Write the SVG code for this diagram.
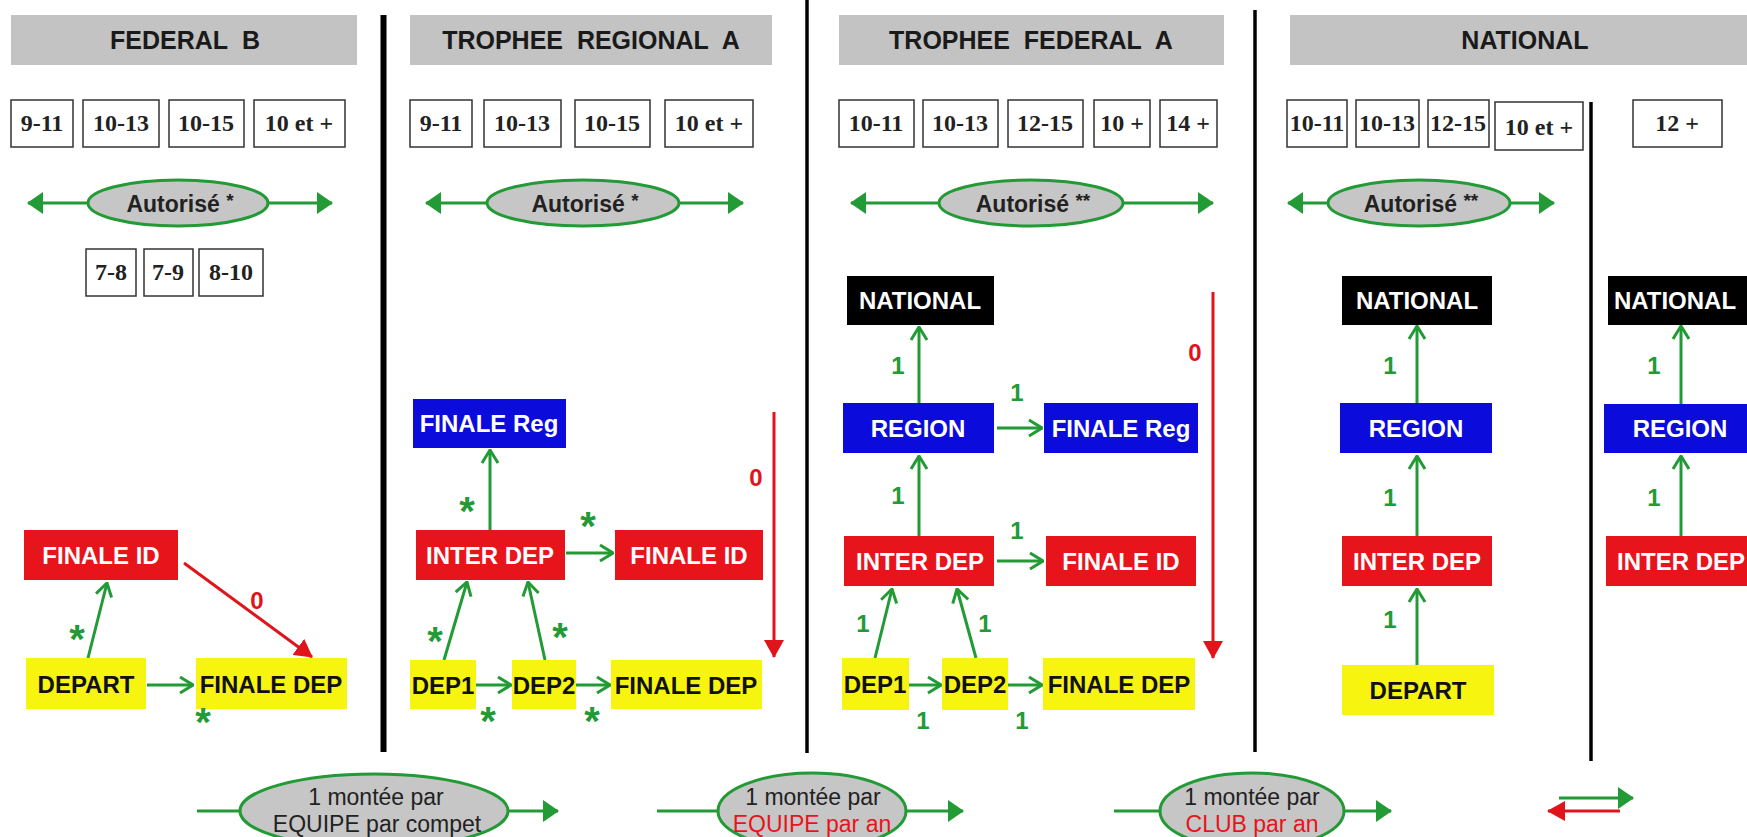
<svg xmlns="http://www.w3.org/2000/svg" width="1747" height="837" viewBox="0 0 1747 837">
<style>
.hdr{fill:#c3c3c3}
.hdrt{font-family:"Liberation Sans",Arial,sans-serif;font-weight:bold;font-size:25px;fill:#1a1a1a;text-anchor:middle}
.age{fill:#fff;stroke:#333;stroke-width:1.5}
.aget{font-family:"Liberation Serif","Times New Roman",serif;font-weight:bold;font-size:24px;fill:#222;text-anchor:middle}
.ell{fill:#c6c6c6;stroke:#229a35;stroke-width:3}
.ellt{font-family:"Liberation Sans",Arial,sans-serif;font-weight:bold;font-size:23px;fill:#222;text-anchor:middle}
.legt{font-family:"Liberation Sans",Arial,sans-serif;font-size:23px;fill:#222;text-anchor:middle}
.legr{fill:#e8141b}
.nt{font-family:"Liberation Sans",Arial,sans-serif;font-weight:bold;font-size:24px;text-anchor:middle}
.w{fill:#fff}
.k{fill:#111}
.red{fill:#e8141b}
.blue{fill:#0b0bdc}
.yel{fill:#f7f510}
.blk{fill:#000}
.g{stroke:#229a35;stroke-width:3;fill:none}
.r{stroke:#e0141b;stroke-width:3;fill:none}
.sep{stroke:#000}
.star{font-family:"Liberation Sans",Arial,sans-serif;font-weight:bold;font-size:40px;fill:#229a35;text-anchor:middle}
.one{font-family:"Liberation Sans",Arial,sans-serif;font-weight:bold;font-size:24px;fill:#229a35;text-anchor:middle}
.zero{font-family:"Liberation Sans",Arial,sans-serif;font-weight:bold;font-size:24px;fill:#e0141b;text-anchor:middle}
</style>
<defs>
<marker id="chev" viewBox="0 0 16 20" refX="15" refY="10" markerWidth="16" markerHeight="20" markerUnits="userSpaceOnUse" orient="auto"><path d="M2,2 L15,10 L2,18" fill="none" stroke="#229a35" stroke-width="3"/></marker>
<marker id="triG" viewBox="0 0 16 22" refX="15" refY="11" markerWidth="16" markerHeight="22" markerUnits="userSpaceOnUse" orient="auto"><path d="M0,0 L16,11 L0,22 Z" fill="#229a35"/></marker>
<marker id="triR" viewBox="0 0 18 20" refX="17" refY="10" markerWidth="18" markerHeight="20" markerUnits="userSpaceOnUse" orient="auto"><path d="M0,0 L18,10 L0,20 Z" fill="#e0141b"/></marker>
</defs>
<rect width="1747" height="837" fill="#fff"/>

<g id="separators">
<line class="sep" x1="383.5" y1="15" x2="383.5" y2="752" stroke-width="6"/>
<line class="sep" x1="807" y1="0" x2="807" y2="753" stroke-width="3.5"/>
<line class="sep" x1="1255" y1="10" x2="1255" y2="752" stroke-width="3.5"/>
<line class="sep" x1="1591" y1="102" x2="1591" y2="761" stroke-width="3.5"/>
</g>

<g id="headers">
<g id="h-federal-b"><rect class="hdr" x="11" y="15" width="346" height="50"/><text class="hdrt" x="185" y="49">FEDERAL&#160; B</text></g>
<g id="h-trophee-regional-a"><rect class="hdr" x="410" y="15" width="362" height="50"/><text class="hdrt" x="591" y="49">TROPHEE&#160; REGIONAL&#160; A</text></g>
<g id="h-trophee-federal-a"><rect class="hdr" x="839" y="15" width="385" height="50"/><text class="hdrt" x="1031" y="49">TROPHEE&#160; FEDERAL&#160; A</text></g>
<g id="h-national"><rect class="hdr" x="1290" y="15" width="457" height="50"/><text class="hdrt" x="1525" y="49">NATIONAL</text></g>
</g>

<g id="ages">
<g id="age-c1">
<rect class="age" x="11" y="100" width="62" height="47"/><text class="aget" x="42" y="131">9-11</text>
<rect class="age" x="83" y="100" width="76" height="47"/><text class="aget" x="121" y="131">10-13</text>
<rect class="age" x="169" y="100" width="75" height="47"/><text class="aget" x="206" y="131">10-15</text>
<rect class="age" x="254" y="100" width="91" height="47"/><text class="aget" x="299" y="131">10 et +</text>
<rect class="age" x="86" y="249" width="50" height="47"/><text class="aget" x="111" y="280">7-8</text>
<rect class="age" x="144" y="249" width="49" height="47"/><text class="aget" x="168" y="280">7-9</text>
<rect class="age" x="199" y="249" width="64" height="47"/><text class="aget" x="231" y="280">8-10</text>
</g>
<g id="age-c2">
<rect class="age" x="410" y="100" width="62" height="47"/><text class="aget" x="441" y="131">9-11</text>
<rect class="age" x="484" y="100" width="77" height="47"/><text class="aget" x="522" y="131">10-13</text>
<rect class="age" x="575" y="100" width="75" height="47"/><text class="aget" x="612" y="131">10-15</text>
<rect class="age" x="665" y="100" width="88" height="47"/><text class="aget" x="709" y="131">10 et +</text>
</g>
<g id="age-c3">
<rect class="age" x="839" y="100" width="75" height="47"/><text class="aget" x="876" y="131">10-11</text>
<rect class="age" x="923" y="100" width="75" height="47"/><text class="aget" x="960" y="131">10-13</text>
<rect class="age" x="1008" y="100" width="75" height="47"/><text class="aget" x="1045" y="131">12-15</text>
<rect class="age" x="1094" y="100" width="56" height="47"/><text class="aget" x="1122" y="131">10 +</text>
<rect class="age" x="1160" y="100" width="57" height="47"/><text class="aget" x="1188" y="131">14 +</text>
</g>
<g id="age-c4">
<rect class="age" x="1287" y="100" width="60" height="47"/><text class="aget" x="1317" y="131">10-11</text>
<rect class="age" x="1356" y="100" width="63" height="47"/><text class="aget" x="1387" y="131">10-13</text>
<rect class="age" x="1428" y="100" width="61" height="47"/><text class="aget" x="1458" y="131">12-15</text>
<rect class="age" x="1495" y="102" width="88" height="48"/><text class="aget" x="1539" y="135">10 et +</text>
<rect class="age" x="1633" y="100" width="89" height="47"/><text class="aget" x="1677" y="131">12 +</text>
</g>
</g>

<g id="autorise">
<g id="aut-c1"><line class="g" x1="88" y1="203" x2="28" y2="203" marker-end="url(#triG)"/><line class="g" x1="268" y1="203" x2="332" y2="203" marker-end="url(#triG)"/><ellipse class="ell" cx="178" cy="203" rx="90" ry="23"/><text class="ellt" x="180" y="212">Autorisé <tspan font-size="19" dy="-5">*</tspan></text></g>
<g id="aut-c2"><line class="g" x1="487" y1="203" x2="426" y2="203" marker-end="url(#triG)"/><line class="g" x1="679" y1="203" x2="743" y2="203" marker-end="url(#triG)"/><ellipse class="ell" cx="583" cy="203" rx="96" ry="23"/><text class="ellt" x="585" y="212">Autorisé <tspan font-size="19" dy="-5">*</tspan></text></g>
<g id="aut-c3"><line class="g" x1="939" y1="203" x2="851" y2="203" marker-end="url(#triG)"/><line class="g" x1="1123" y1="203" x2="1213" y2="203" marker-end="url(#triG)"/><ellipse class="ell" cx="1031" cy="203" rx="92" ry="23"/><text class="ellt" x="1033" y="212">Autorisé <tspan font-size="19" dy="-5">**</tspan></text></g>
<g id="aut-c4"><line class="g" x1="1328" y1="203" x2="1288" y2="203" marker-end="url(#triG)"/><line class="g" x1="1510" y1="203" x2="1554" y2="203" marker-end="url(#triG)"/><ellipse class="ell" cx="1419" cy="203" rx="91" ry="23"/><text class="ellt" x="1421" y="212">Autorisé <tspan font-size="19" dy="-5">**</tspan></text></g>
</g>

<g id="connectors">
<line class="g" x1="147" y1="685" x2="193" y2="685" marker-end="url(#chev)"/>
<line class="g" x1="88" y1="658" x2="107" y2="583" marker-end="url(#chev)"/>
<line class="r" x1="184" y1="563" x2="312" y2="657" marker-end="url(#triR)"/>

<line class="g" x1="490" y1="530" x2="490" y2="450" marker-end="url(#chev)"/>
<line class="g" x1="566" y1="553" x2="613" y2="553" marker-end="url(#chev)"/>
<line class="g" x1="444" y1="660" x2="467" y2="582" marker-end="url(#chev)"/>
<line class="g" x1="545" y1="660" x2="528" y2="582" marker-end="url(#chev)"/>
<line class="g" x1="476" y1="685" x2="511" y2="685" marker-end="url(#chev)"/>
<line class="g" x1="576" y1="685" x2="610" y2="685" marker-end="url(#chev)"/>
<line class="r" x1="774" y1="412" x2="774" y2="657" marker-end="url(#triR)"/>

<line class="g" x1="919" y1="403" x2="919" y2="327" marker-end="url(#chev)"/>
<line class="g" x1="919" y1="536" x2="919" y2="456" marker-end="url(#chev)"/>
<line class="g" x1="997" y1="428" x2="1042" y2="428" marker-end="url(#chev)"/>
<line class="g" x1="997" y1="561" x2="1043" y2="561" marker-end="url(#chev)"/>
<line class="g" x1="875" y1="658" x2="892" y2="589" marker-end="url(#chev)"/>
<line class="g" x1="976" y1="658" x2="957" y2="589" marker-end="url(#chev)"/>
<line class="g" x1="909" y1="685" x2="941" y2="685" marker-end="url(#chev)"/>
<line class="g" x1="1008" y1="685" x2="1042" y2="685" marker-end="url(#chev)"/>
<line class="r" x1="1213" y1="292" x2="1213" y2="658" marker-end="url(#triR)"/>

<line class="g" x1="1417" y1="403" x2="1417" y2="326" marker-end="url(#chev)"/>
<line class="g" x1="1417" y1="536" x2="1417" y2="456" marker-end="url(#chev)"/>
<line class="g" x1="1417" y1="665" x2="1417" y2="589" marker-end="url(#chev)"/>

<line class="g" x1="1681" y1="404" x2="1681" y2="326" marker-end="url(#chev)"/>
<line class="g" x1="1681" y1="536" x2="1681" y2="456" marker-end="url(#chev)"/>
</g>

<g id="col1-nodes">
<g id="c1-finale-id"><rect class="red" x="24" y="530" width="154" height="50"/><text class="nt w" x="101" y="564">FINALE ID</text></g>
<g id="c1-depart"><rect class="yel" x="26" y="658" width="120" height="51"/><text class="nt k" x="86" y="693">DEPART</text></g>
<g id="c1-finale-dep"><rect class="yel" x="196" y="658" width="151" height="51"/><text class="nt k" x="271" y="693">FINALE DEP</text></g>
</g>

<g id="col2-nodes">
<g id="c2-finale-reg"><rect class="blue" x="413" y="399" width="153" height="49"/><text class="nt w" x="489" y="432">FINALE Reg</text></g>
<g id="c2-inter-dep"><rect class="red" x="416" y="530" width="149" height="50"/><text class="nt w" x="490" y="564">INTER DEP</text></g>
<g id="c2-finale-id"><rect class="red" x="615" y="530" width="148" height="50"/><text class="nt w" x="689" y="564">FINALE ID</text></g>
<g id="c2-dep1"><rect class="yel" x="410" y="660" width="66" height="49"/><text class="nt k" x="443" y="694">DEP1</text></g>
<g id="c2-dep2"><rect class="yel" x="512" y="660" width="64" height="49"/><text class="nt k" x="544" y="694">DEP2</text></g>
<g id="c2-finale-dep"><rect class="yel" x="611" y="660" width="151" height="49"/><text class="nt k" x="686" y="694">FINALE DEP</text></g>
</g>

<g id="col3-nodes">
<g id="c3-national"><rect class="blk" x="847" y="276" width="147" height="49"/><text class="nt w" x="920" y="309">NATIONAL</text></g>
<g id="c3-region"><rect class="blue" x="843" y="403" width="151" height="50"/><text class="nt w" x="918" y="437">REGION</text></g>
<g id="c3-finale-reg"><rect class="blue" x="1044" y="403" width="154" height="50"/><text class="nt w" x="1121" y="437">FINALE Reg</text></g>
<g id="c3-inter-dep"><rect class="red" x="844" y="536" width="150" height="50"/><text class="nt w" x="920" y="570">INTER DEP</text></g>
<g id="c3-finale-id"><rect class="red" x="1046" y="536" width="150" height="50"/><text class="nt w" x="1121" y="570">FINALE ID</text></g>
<g id="c3-dep1"><rect class="yel" x="842" y="658" width="67" height="52"/><text class="nt k" x="875" y="693">DEP1</text></g>
<g id="c3-dep2"><rect class="yel" x="942" y="658" width="66" height="52"/><text class="nt k" x="975" y="693">DEP2</text></g>
<g id="c3-finale-dep"><rect class="yel" x="1043" y="658" width="152" height="52"/><text class="nt k" x="1119" y="693">FINALE DEP</text></g>
</g>

<g id="col4-nodes">
<g id="c4-national"><rect class="blk" x="1342" y="276" width="150" height="49"/><text class="nt w" x="1417" y="309">NATIONAL</text></g>
<g id="c4-region"><rect class="blue" x="1340" y="403" width="152" height="50"/><text class="nt w" x="1416" y="437">REGION</text></g>
<g id="c4-inter-dep"><rect class="red" x="1342" y="536" width="150" height="50"/><text class="nt w" x="1417" y="570">INTER DEP</text></g>
<g id="c4-depart"><rect class="yel" x="1342" y="665" width="152" height="50"/><text class="nt k" x="1418" y="699">DEPART</text></g>
</g>

<g id="col5-nodes">
<g id="c5-national"><rect class="blk" x="1608" y="276" width="150" height="49"/><text class="nt w" x="1675" y="309">NATIONAL</text></g>
<g id="c5-region"><rect class="blue" x="1604" y="404" width="150" height="49"/><text class="nt w" x="1680" y="437">REGION</text></g>
<g id="c5-inter-dep"><rect class="red" x="1606" y="536" width="150" height="50"/><text class="nt w" x="1681" y="570">INTER DEP</text></g>
</g>

<g id="labels">
<text class="star" x="77" y="653">*</text>
<text class="star" x="203" y="736">*</text>
<text class="zero" x="257" y="609">0</text>
<text class="star" x="467" y="525">*</text>
<text class="star" x="588" y="540">*</text>
<text class="star" x="435" y="655">*</text>
<text class="star" x="560" y="651">*</text>
<text class="star" x="488" y="735">*</text>
<text class="star" x="592" y="735">*</text>
<text class="zero" x="756" y="486">0</text>
<text class="one" x="898" y="374">1</text>
<text class="one" x="1017" y="401">1</text>
<text class="one" x="898" y="504">1</text>
<text class="one" x="1017" y="539">1</text>
<text class="one" x="863" y="632">1</text>
<text class="one" x="985" y="632">1</text>
<text class="one" x="923" y="729">1</text>
<text class="one" x="1022" y="729">1</text>
<text class="zero" x="1195" y="361">0</text>
<text class="one" x="1390" y="374">1</text>
<text class="one" x="1390" y="506">1</text>
<text class="one" x="1390" y="628">1</text>
<text class="one" x="1654" y="374">1</text>
<text class="one" x="1654" y="506">1</text>
</g>

<g id="legend">
<g id="leg1"><line class="g" x1="197" y1="811" x2="240" y2="811"/><line class="g" x1="508" y1="811" x2="558" y2="811" marker-end="url(#triG)"/><ellipse class="ell" cx="374" cy="811" rx="134" ry="37"/><text class="legt" x="376" y="805">1 montée par</text><text class="legt" x="377" y="832">EQUIPE par compet</text></g>
<g id="leg2"><line class="g" x1="657" y1="811" x2="718" y2="811"/><line class="g" x1="906" y1="811" x2="963" y2="811" marker-end="url(#triG)"/><ellipse class="ell" cx="812" cy="811" rx="94" ry="38"/><text class="legt" x="813" y="805">1 montée par</text><text class="legt legr" x="812" y="832">EQUIPE par an</text></g>
<g id="leg3"><line class="g" x1="1114" y1="811" x2="1160" y2="811"/><line class="g" x1="1344" y1="811" x2="1391" y2="811" marker-end="url(#triG)"/><ellipse class="ell" cx="1252" cy="811" rx="92" ry="38"/><text class="legt" x="1252" y="805">1 montée par</text><text class="legt legr" x="1252" y="832">CLUB par an</text></g>
<g id="leg4"><line class="g" x1="1559" y1="798" x2="1633" y2="798" marker-end="url(#triG)"/><line class="r" x1="1620" y1="811" x2="1548" y2="811" marker-end="url(#triR)"/></g>
</g>
</svg>
